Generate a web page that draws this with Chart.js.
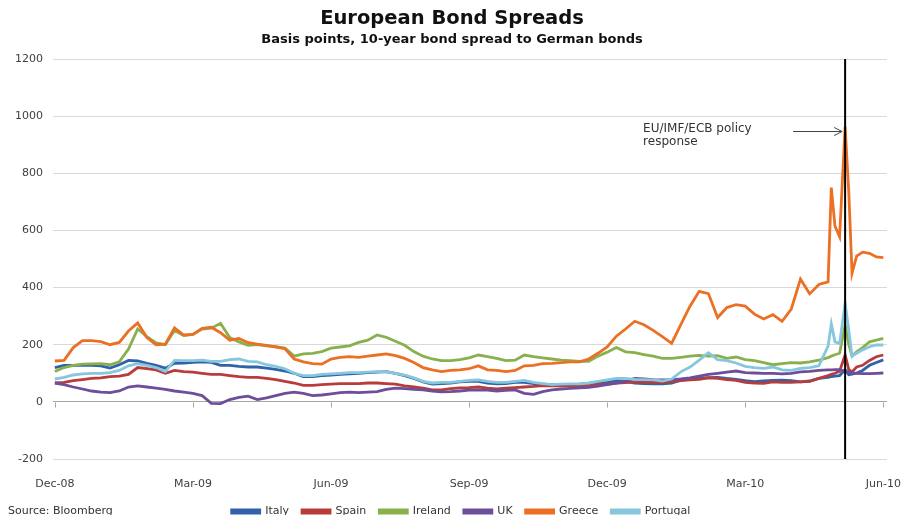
<!DOCTYPE html>
<html>
<head>
<meta charset="utf-8">
<script src="https://cdn.jsdelivr.net/npm/chart.js"></script>
<style>
  html, body { margin: 0; padding: 0; background: #fff; }
</style>
</head>
<body>
<canvas id="bondChart" width="904" height="515"></canvas>
<script>
// months since Dec-08 (0 = Dec-08, 18 = Jun-10)
const dates = [
  0.0, 0.2, 0.4, 0.6, 0.8,   1.0, 1.2, 1.4, 1.6, 1.8,   2.0, 2.2, 2.4, 2.6, 2.8,
  3.0, 3.2, 3.4, 3.6, 3.8,   4.0, 4.2, 4.4, 4.6, 4.8,   5.0, 5.2, 5.4, 5.6, 5.8,
  6.0, 6.2, 6.4, 6.6, 6.8,   7.0, 7.2, 7.4, 7.6, 7.8,   8.0, 8.2, 8.4, 8.6, 8.8,
  9.0, 9.2, 9.4, 9.6, 9.8,   10.0, 10.2, 10.4, 10.6, 10.8,   11.0, 11.2, 11.4, 11.6, 11.8,
  12.0, 12.2, 12.4, 12.6, 12.8,   13.0, 13.2, 13.4, 13.6, 13.8,   14.0, 14.2, 14.4, 14.6, 14.8,
  15.0, 15.2, 15.4, 15.6, 15.8,   16.0, 16.2, 16.4, 16.6, 16.8,
  16.87, 16.95, 17.05, 17.17, 17.25, 17.32, 17.42, 17.55, 17.7, 17.85, 18.0
];

const italy = [
  120, 128, 128, 128, 128,   126, 118, 130, 145, 143,   135, 128, 118, 135, 136,
  138, 140, 138, 128, 128,   124, 122, 122, 118, 114,   108, 100, 88, 88, 92,
  94, 96, 98, 100, 102,   104, 106, 100, 92, 82,   70, 62, 64, 66, 70,
  72, 72, 66, 63, 64,   68, 68, 64, 62, 60,   60, 61, 62, 65, 66,
  68, 74, 72, 66, 64,   63, 63, 66, 76, 80,   83, 85, 86, 82, 79,
  74, 71, 73, 75, 76,   74, 70, 73, 82, 86,
  88, 90, 92, 113, 95, 97, 101, 110, 128, 138, 147
];

const spain = [
  66, 68, 74, 78, 82,   84, 88, 90, 96, 120,   116, 112, 100, 110, 106,
  104, 100, 96, 96, 92,   88, 86, 86, 82, 78,   72, 66, 58, 58, 60,
  62, 64, 64, 64, 66,   66, 64, 62, 56, 52,   48, 42, 42, 46, 49,
  50, 52, 48, 45, 48,   50, 52, 54, 57, 56,   56, 57, 57, 58, 60,
  62, 66, 67, 70, 69,   68, 68, 70, 74, 77,   79, 84, 82, 78, 75,
  68, 66, 65, 70, 68,   68, 70, 72, 82, 92,
  96, 100, 107, 164, 113, 105, 122, 128, 145, 158, 164
];

const ireland = [
  106, 120, 128, 132, 133,   134, 130, 140, 185, 255,   228, 206, 200, 250, 232,
  236, 255, 258, 275, 225,   210, 198, 200, 196, 193,   188, 160, 168, 170, 176,
  188, 192, 196, 208, 216,   234, 226, 212, 198, 176,   160, 150, 144, 144, 148,
  154, 164, 158, 152, 144,   146, 164, 158, 154, 150,   146, 144, 142, 142, 160,
  174, 190, 175, 172, 165,   160, 152, 152, 156, 160,   163, 160, 162, 152, 157,
  148, 144, 137, 130, 134,   137, 136, 140, 146, 155,
  160, 165, 170, 270, 200, 160, 175, 190, 210, 216, 222
];

const uk = [
  66, 60, 52, 45, 38,   34, 32, 38, 52, 56,   52, 48, 44, 38, 34,
  30, 22, -5, -6, 8,   16, 20, 8, 14, 22,   30, 34, 30, 22, 24,
  28, 32, 34, 32, 34,   36, 44, 48, 46, 44,   42, 38, 35, 36, 38,
  41, 41, 41, 38, 40,   42, 30, 26, 36, 42,   45, 47, 49, 51, 55,
  60, 66, 72, 82, 80,   78, 77, 77, 80, 84,   90, 96, 100, 104, 108,
  102, 101, 100, 100, 98,   100, 105, 107, 110, 112,
  112, 113, 113, 107, 104, 101, 100, 99, 99, 100, 101
];

const greece = [
  143, 145, 190, 214, 214,   211, 200, 208, 248, 276,   225, 200, 202, 259, 234,
  236, 257, 261, 242, 216,   222, 207, 202, 198, 192,   186, 150, 140, 134, 132,
  150, 156, 158, 156, 160,   164, 168, 162, 152, 138,   120, 112, 106, 110, 112,
  116, 126, 112, 110, 106,   110, 126, 128, 134, 135,   137, 140, 140, 150, 170,
  192, 230, 255, 282, 270,   250, 228, 205, 270, 335,   387, 379, 295, 330, 340,
  335, 307, 290, 305, 282,   325, 430, 378, 411, 420,
  750, 615, 578, 963, 733, 450, 510, 524, 520, 507, 505
];

const portugal = [
  80, 86, 94, 98, 100,   100, 102, 110, 126, 134,   128, 120, 106, 145, 144,
  144, 146, 142, 142, 148,   150, 142, 140, 130, 124,   116, 100, 92, 92, 96,
  98, 100, 102, 102, 104,   106, 106, 100, 94, 84,   72, 66, 68, 68, 72,
  75, 77, 72, 68, 68,   72, 75, 68, 64, 60,   62, 63, 63, 66, 72,
  77, 82, 82, 79, 78,   77, 73, 80, 105, 122,   146, 172, 148, 144, 136,
  124, 120, 117, 122, 112,   110, 117, 120, 126, 195,
  273, 210, 204, 345, 250, 160, 170, 182, 193, 199, 199
];

const seriesNames = ['Italy', 'Spain', 'Ireland', 'UK', 'Greece', 'Portugal'];
const seriesValues = [italy, spain, ireland, uk, greece, portugal];
const seriesColors = ['#2f62a8', '#b83c3a', '#8ab04e', '#6e4e9a', '#eb7024', '#86c7de'];

const tickMonths = [0, 3, 6, 9, 12, 15, 18];
const tickLabels = ['Dec-08', 'Mar-09', 'Jun-09', 'Sep-09', 'Dec-09', 'Mar-10', 'Jun-10'];

const policyMonth = 17.17;   // EU/IMF/ECB response marker
const arrowValue = 947;

const fontFamily = "'DejaVu Sans', Verdana, sans-serif";
Chart.defaults.font.family = fontFamily;

const extras = {
  id: 'extras',
  afterLayout(chart) {
    // legend sits a little right of centre in the original
    if (chart.legend) { chart.legend.left += 9; chart.legend.right += 9; }
  },
  beforeDatasetsDraw(chart) {
    const {ctx, scales: {x, y}} = chart;
    const y0 = Math.round(y.getPixelForValue(0)) + 0.5;
    ctx.save();
    ctx.strokeStyle = '#a6a6a6';
    ctx.lineWidth = 1;
    tickMonths.forEach(m => {
      const px = Math.round(x.getPixelForValue(m)) + 0.5;
      ctx.beginPath();
      ctx.moveTo(px, y0);
      ctx.lineTo(px, y0 + 5);
      ctx.stroke();
    });
    ctx.restore();
  },
  afterDatasetsDraw(chart) {
    const {ctx, chartArea, scales: {x, y}} = chart;
    const lx = x.getPixelForValue(policyMonth);
    ctx.save();
    // policy line
    ctx.strokeStyle = '#000';
    ctx.lineWidth = 2;
    ctx.beginPath();
    ctx.moveTo(lx, chartArea.top);
    ctx.lineTo(lx, chartArea.bottom);
    ctx.stroke();

    // arrow
    const ay = Math.round(y.getPixelForValue(arrowValue)) + 0.5;
    const tip = lx - 3;
    ctx.strokeStyle = '#444';
    ctx.lineWidth = 1;
    ctx.beginPath();
    ctx.moveTo(lx - 52, ay);
    ctx.lineTo(tip, ay);
    ctx.moveTo(tip - 8, ay - 4);
    ctx.lineTo(tip, ay);
    ctx.lineTo(tip - 8, ay + 4);
    ctx.stroke();

    // annotation text
    ctx.fillStyle = '#333';
    ctx.font = '12px ' + fontFamily;
    ctx.textAlign = 'left';
    ctx.textBaseline = 'middle';
    ctx.fillText('EU/IMF/ECB policy', lx - 202, ay - 3);
    ctx.fillText('response', lx - 202, ay + 10);

    // source note
    ctx.fillStyle = '#333';
    ctx.font = '11px ' + fontFamily;
    ctx.textBaseline = 'top';
    ctx.fillText('Source: Bloomberg', 8, 506);
    ctx.restore();
  }
};

new Chart(document.getElementById('bondChart'), {
  type: 'line',
  data: {
    datasets: seriesNames.map((name, k) => ({
      label: name,
      data: dates.map((d, i) => ({x: d, y: seriesValues[k][i]})),
      borderColor: seriesColors[k],
      backgroundColor: seriesColors[k],
      borderWidth: 2.8,
      pointRadius: 0,
      tension: 0,
      order: seriesNames.length - k
    }))
  },
  options: {
    responsive: false,
    animation: false,
    layout: { padding: { left: 0, right: 0, top: 0, bottom: -12 } },
    plugins: {
      title: {
        display: true,
        text: 'European Bond Spreads',
        color: '#111',
        font: { size: 19.5, weight: 'bold' },
        padding: { top: 7, bottom: 1 }
      },
      subtitle: {
        display: true,
        text: 'Basis points, 10-year bond spread to German bonds',
        color: '#111',
        font: { size: 13, weight: 'bold' },
        padding: { top: 0, bottom: 12 }
      },
      legend: {
        position: 'bottom',
        labels: {
          boxWidth: 28,
          boxHeight: 3,
          padding: 13,
          color: '#333',
          font: { size: 11 },
          sort: (a, b) => a.datasetIndex - b.datasetIndex
        }
      },
      tooltip: { enabled: false }
    },
    scales: {
      x: {
        type: 'linear',
        min: -0.04,
        max: 18.08,
        afterBuildTicks: s => { s.ticks = tickMonths.map(v => ({value: v})); },
        afterFit: s => { s.height = 34; s.paddingLeft = 0; s.paddingRight = 17; },
        grid: { display: false, drawTicks: false },
        border: { display: false },
        ticks: {
          autoSkip: false,
          maxRotation: 0,
          padding: 19,
          color: '#404040',
          font: { size: 11 },
          callback: (v, i) => tickLabels[i]
        }
      },
      y: {
        min: -200,
        max: 1200,
        afterFit: s => { s.width = 53; },
        grid: {
          drawTicks: false,
          color: c => (c.tick && c.tick.value === 0) ? '#a6a6a6' : '#d9d9d9'
        },
        border: { display: false },
        ticks: {
          stepSize: 200,
          padding: 10,
          color: '#404040',
          font: { size: 11 },
          callback: v => String(v)
        }
      }
    }
  },
  plugins: [extras]
});
</script>
</body>
</html>
